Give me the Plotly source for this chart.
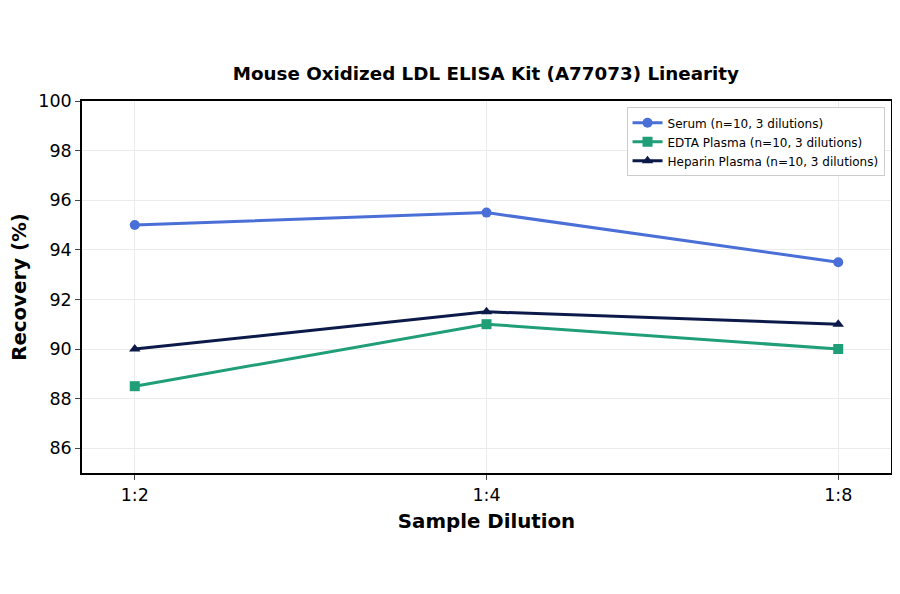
import plotly.graph_objects as go

dilutions = ['1:2', '1:4', '1:8']
serum = [95.0, 95.5, 93.5]
edta = [88.5, 91.0, 90.0]
heparin = [90.0, 91.5, 91.0]
names = ['Serum (n=10, 3 dilutions)', 'EDTA Plasma (n=10, 3 dilutions)', 'Heparin Plasma (n=10, 3 dilutions)']
colors = ['#4a6fd6', '#1f9e78', '#0c1a4a']
symbols = ['circle', 'square', 'triangle-up']

fig = go.Figure()
for vals, nm, c, s in zip([serum, edta, heparin], names, colors, symbols):
    fig.add_trace(go.Scatter(x=[0, 1, 2], y=vals, mode='lines+markers', name=nm,
                             line=dict(color=c, width=3),
                             marker=dict(symbol=s, size=10, color=c)))

fig.update_layout(
    width=900, height=594,
    paper_bgcolor='white', plot_bgcolor='white',
    font=dict(family='DejaVu Sans', color='black'),
    title=dict(text='<b>Mouse Oxidized LDL ELISA Kit (A77073) Linearity</b>',
               x=0.531, xanchor='center', y=0.89, yanchor='middle', font=dict(size=18.3)),
    margin=dict(l=74, r=17, t=93, b=129),
    legend=dict(x=0.992, y=0.983, xanchor='right', yanchor='top',
                bgcolor='white', bordercolor='#cccccc', borderwidth=1,
                font=dict(size=12), tracegroupgap=0, itemwidth=30),
)
fig.update_xaxes(tickvals=[0, 1, 2], ticktext=dilutions, range=[-0.15, 2.15],
                 title=dict(text='<b>Sample Dilution</b>', font=dict(size=19.8), standoff=10),
                 tickfont=dict(size=17.5), showline=True, linecolor='black', linewidth=1.5,
                 mirror=True, ticks='outside', ticklen=5, showgrid=True, gridcolor='#ebebeb',
                 zeroline=False, automargin=False)
fig.update_yaxes(range=[85, 100], dtick=2, tick0=86,
                 title=dict(text='<b>Recovery (%)</b>', font=dict(size=19.8), standoff=10),
                 tickfont=dict(size=17.5), showline=True, linecolor='black', linewidth=1.5,
                 mirror=True, ticks='outside', ticklen=5, showgrid=True, gridcolor='#ebebeb',
                 zeroline=False, automargin=False)

fig.write_html('out.html')
